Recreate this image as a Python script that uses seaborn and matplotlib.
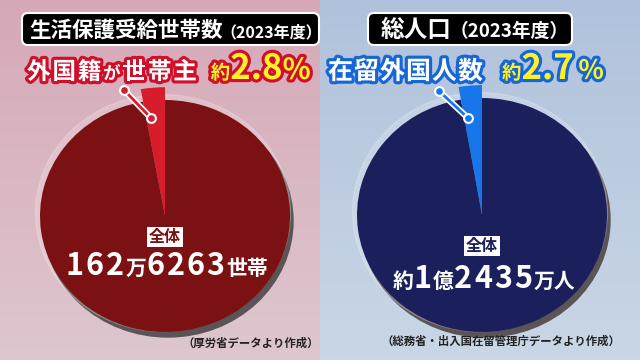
import re
import matplotlib
matplotlib.use("Agg")
import matplotlib.pyplot as plt
import seaborn as sns
import numpy as np
from matplotlib import patheffects as pe
from matplotlib.patches import FancyBboxPatch, Ellipse

# ---------------- data ----------------
titles = ["生活保護受給世帯数", "総人口"]
title_year = "（2023年度）"
subgroup_labels = ["外国籍が世帯主", "在留外国人数"]
foreign_share = [2.8, 2.7]          # percent
pct_signs = ["%", "％"]
totals = ["162万6263世帯", "約1億2435万人"]
total_caption = "全体"
sources = ["（厚労省データより作成）", "（総務省・出入国在留管理庁データより作成）"]

# ---------------- style ----------------
sns.set_theme(style="white")
plt.rcParams['font.family'] = ['Noto Sans CJK JP', 'DejaVu Sans']
FW = 'bold'

W, H = 640, 360
fig = plt.figure(figsize=(6.4, 3.6), dpi=100)
bg = fig.add_axes([0, 0, 1, 1])
bg.axis('off')


def grad(c1, c2, n=100):
    c1, c2 = np.array(c1), np.array(c2)
    t = np.linspace(0, 1, n)[:, None]
    return (c1 * (1 - t) + c2 * t)[:, None, :]


bg.imshow(grad([0.84, 0.66, 0.72], [0.87, 0.78, 0.81]), extent=[0, 320, H, 0],
          aspect='auto', zorder=0)
bg.imshow(grad([0.69, 0.76, 0.86], [0.79, 0.84, 0.90]), extent=[320, 640, H, 0],
          aspect='auto', zorder=0)
bg.set_xlim(0, W)
bg.set_ylim(H, 0)

themes = [
    dict(main='#7c1113', slice='#d71d2b', stroke='#d0102a', cx=165, cy=216, rx=125, ry=116,
         box=(22, 13, 297, 32), title_x=29, title_size=15.5, year_size=11.5,
         head_x=27, head_size=17, head_gap=1.8, pre_gap=12, pct_gap=0,
         num_size=25, pct_size=21,
         cap_y=237, num_base=275, src_x=319, src_y=347,
         ptr=((124, 90), (151, 118))),
    dict(main='#1b1f5c', slice='#1777ea', stroke='#1566d6', cx=482, cy=215, rx=125, ry=117,
         box=(368, 13, 204, 32), title_x=381, title_size=17, year_size=13.5,
         head_x=328, head_size=18, head_gap=1.0, pre_gap=18, pct_gap=4,
         num_size=25, pct_size=19,
         cap_y=246, num_base=288, src_x=620, src_y=345,
         ptr=((439, 91), (468, 118))),
]

# pies + shadows
for i, th in enumerate(themes):
    cx, cy, rx, ry = th['cx'], th['cy'], th['rx'], th['ry']
    bg.add_patch(Ellipse((cx + 3, cy + 5), 2 * rx, 2 * ry, color='#5a5456', zorder=1))
    bg.add_patch(Ellipse((cx - 2, cy - 3), 2 * rx + 5, 2 * ry + 5, color='white',
                         alpha=0.2, zorder=1))
    L = 1.25
    ax = fig.add_axes([(cx - L * rx) / W, (H - (cy + L * ry)) / H,
                       2 * L * rx / W, 2 * L * ry / H])
    share = foreign_share[i]
    vals = [share, 100 - share]
    ax.pie(vals, colors=['none', th['main']], startangle=90, counterclock=True,
           radius=1.0, wedgeprops=dict(linewidth=0))
    ax.pie(vals, colors=[th['slice'], 'none'], startangle=90, counterclock=True,
           radius=1.11, wedgeprops=dict(linewidth=0))
    ax.set_xlim(-L, L)
    ax.set_ylim(-L, L)
    ax.set_aspect('auto')
    ax.axis('off')

# foreground overlay
fg = fig.add_axes([0, 0, 1, 1])
fg.set_xlim(0, W)
fg.set_ylim(H, 0)
fg.axis('off')
fg.patch.set_alpha(0)

renderer = fig.canvas.get_renderer()


def draw_runs(x, y, runs, ha='left', zorder=10):
    widths = []
    for s, kw in runs:
        if s is None:
            widths.append(kw['gap'])
            continue
        t = fg.text(0, 0, s, **kw)
        widths.append(t.get_window_extent(renderer).width)
        t.remove()
    total = sum(widths)
    x0 = x - total / 2 if ha == 'center' else (x - total if ha == 'right' else x)
    for (s, kw), w in zip(runs, widths):
        if s is not None:
            fg.text(x0, y, s, ha='left', va='baseline', zorder=zorder, **kw)
        x0 += w


YEL = '#fff02a'
for i, th in enumerate(themes):
    cx, cy = th['cx'], th['cy']
    # title box
    bx, by, bw, bh = th['box']
    fg.add_patch(FancyBboxPatch((bx, by), bw, bh, boxstyle="round,pad=0,rounding_size=6",
                                fc='black', ec='white', lw=1.5, zorder=5))
    draw_runs(th['title_x'], 37, [
        (titles[i], dict(fontsize=th['title_size'], color='white', fontweight=FW)),
        (None, dict(gap=-2)),
        (title_year, dict(fontsize=th['year_size'], color='white', fontweight=FW)),
    ])

    # headline
    sw = [pe.withStroke(linewidth=4.5, foreground=th['stroke'])]
    runs = []
    for ch in subgroup_labels[i]:
        small = '\u3040' <= ch <= '\u309f'
        runs.append((ch, dict(fontsize=12.5 if small else th['head_size'], color='white',
                              fontweight=FW, path_effects=sw)))
        runs.append((None, dict(gap=th['head_gap'])))
    runs.append((None, dict(gap=th['pre_gap'])))
    runs.append(("約", dict(fontsize=14, color=YEL, fontweight=FW, path_effects=sw)))
    runs.append((f"{foreign_share[i]}",
                 dict(fontsize=th['num_size'], color=YEL, fontweight=FW, path_effects=sw)))
    runs.append((None, dict(gap=th['pct_gap'])))
    runs.append((pct_signs[i], dict(fontsize=th['pct_size'], color=YEL,
                                    fontweight=FW, path_effects=sw)))
    draw_runs(th['head_x'], 79, runs)

    # pointer
    (x1, y1), (x2, y2) = th['ptr']
    fg.plot([x1, x2], [y1, y2], color='white', lw=4.5, solid_capstyle='round', zorder=8)
    fg.plot([x1, x2], [y1, y2], color=th['slice'], lw=2, zorder=9)
    fg.scatter([x1, x2], [y1, y2], s=40, color=th['slice'], edgecolor='white',
               linewidth=1.5, zorder=9)

    # caption
    fg.text(cx, th['cap_y'], total_caption, ha='center', va='center', fontsize=11.5,
            fontweight=FW, color=th['main'], zorder=10,
            bbox=dict(boxstyle='square,pad=0.12', fc='white', ec='none'))
    parts = re.findall(r'\d+|\D+', totals[i])
    runs = []
    for p in parts:
        if p.isdigit():
            for d in p:
                runs.append((d, dict(fontsize=22, color='white', fontweight=FW)))
                runs.append((None, dict(gap=2)))
        else:
            runs.append((p, dict(fontsize=15, color='white', fontweight=FW)))
    draw_runs(cx + 2, th['num_base'], runs, ha='center')

    # source
    fg.text(th['src_x'], th['src_y'], sources[i], ha='right', va='baseline', fontsize=8.2,
            color='#222222', fontweight=FW, zorder=10)

fig.savefig("out.png", dpi=100)
